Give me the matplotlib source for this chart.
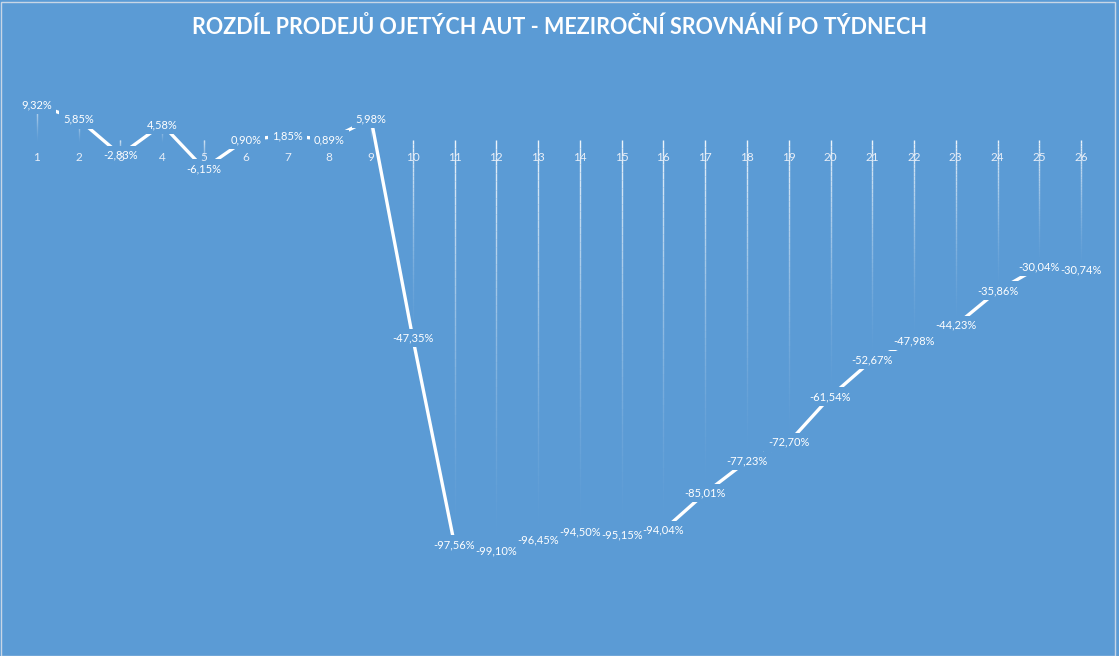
import matplotlib
matplotlib.use("Agg")
import matplotlib.pyplot as plt
import numpy as np
from matplotlib.collections import LineCollection
from matplotlib.patches import Rectangle

weeks = [str(i) for i in range(1, 27)]
values = [9.32, 5.85, -2.83, 4.58, -6.15, 0.90, 1.85, 0.89, 5.98, -47.35,
          -97.56, -99.10, -96.45, -94.50, -95.15, -94.04, -85.01, -77.23,
          -72.70, -61.54, -52.67, -47.98, -44.23, -35.86, -30.04, -30.74]
title = "ROZDÍL PRODEJŮ OJETÝCH AUT - MEZIROČNÍ SROVNÁNÍ PO TÝDNECH"

BG = "#5B9BD5"
plt.rcParams['font.family'] = ['Lato', 'DejaVu Sans']

fig = plt.figure(figsize=(11.19, 6.56), dpi=100, facecolor=BG)
ax = fig.add_axes([16/1119, 1-637/656, (1102-16)/1119, (637-61)/656])
ax.set_facecolor(BG)

x = np.arange(len(values))
ax.set_xlim(-0.5, len(values) - 0.5)
ax.set_ylim(-120, 20)

# drop lines with gradient (bright at top, fading at bottom)
nseg = 50
segs, cols = [], []
for xi, v in zip(x, values):
    top, bot = max(v, 0) + (0 if v > 0 else 0.7), min(v, 0)
    ys = np.linspace(top, bot, nseg + 1)
    for k in range(nseg):
        segs.append([(xi, ys[k]), (xi, ys[k + 1])])
        t = (k + 0.5) / nseg
        a = 0.9 * (1 - t) ** 1.6
        cols.append((1, 1, 1, a))
lc = LineCollection(segs, colors=cols, linewidths=1.0, zorder=1)
ax.add_collection(lc)

ax.plot(x, values, color="white", lw=2.4, zorder=1.5, solid_capstyle='butt')

for xi, v in zip(x, values):
    lab = f"{v:.2f}".replace(".", ",") + "%"
    # background box (hides the line), then the text on top
    ax.text(xi, v, lab, ha="center", va="center", fontsize=8, color=BG,
            alpha=0.0, zorder=2,
            bbox=dict(boxstyle="square,pad=0.35", facecolor=BG, edgecolor="none"))
    ax.text(xi, v, lab, ha="center", va="center", fontsize=8, color="white",
            zorder=2.1)

for s in ax.spines.values():
    s.set_visible(False)
ax.spines['bottom'].set_position(('data', 0))
ax.set_xticks(x)
ax.set_xticklabels(weeks, fontsize=8.5, color="#e8eef7")
ax.tick_params(axis='x', length=0, pad=6)
ax.set_yticks([])
ax.xaxis.set_zorder(2.5)

fig.text(0.5, 1 - 27/656, title, ha="center", va="center", fontsize=15.5,
         fontweight="bold", color="white")

fig.patches.append(Rectangle((0.5/1119, 0.5/656), 1 - 5/1119, 1 - 2.5/656,
                             transform=fig.transFigure, fill=False,
                             edgecolor="#c8d6e6", lw=1))

fig.savefig("out.png", dpi=100, facecolor=BG)
